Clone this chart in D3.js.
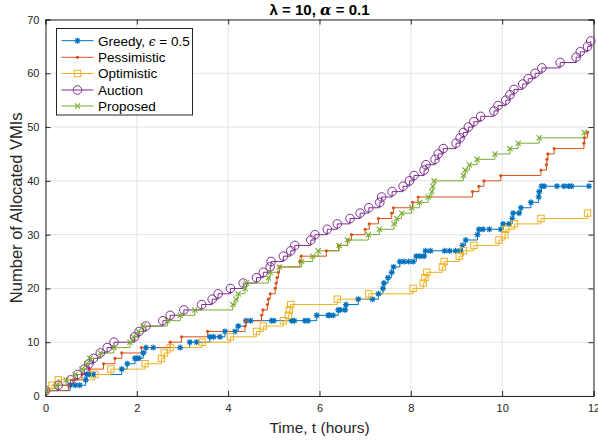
<!DOCTYPE html>
<html><head><meta charset="utf-8">
<script src="https://cdn.jsdelivr.net/npm/d3@7"></script>
<style>body{margin:0;background:#fff;} svg{display:block;font-family:"Liberation Sans",Arial,Helvetica,sans-serif;}</style>
</head><body><svg id="c" width="598" height="443"></svg>
<script>
const xTicks = [0, 2, 4, 6, 8, 10, 12];
const yTicks = [0, 10, 20, 30, 40, 50, 60, 70];
const seriesNames = ["Greedy, ϵ = 0.5", "Pessimistic", "Optimistic", "Auction", "Proposed"];

const greedy = [[0,1],[0.54,2],[0.65,2],[0.75,2],[0.88,3],[0.9,4],[0.97,4],[1.05,4],[1.67,5],[1.79,6],[1.96,7],[2.0,7],[2.05,7],[2.14,8],[2.2,9],[2.36,9],[2.95,9],[3.16,10],[3.31,10],[3.6,11],[3.68,11],[3.82,11],[3.93,12],[4.15,12],[4.22,13],[4.39,14],[4.49,14],[4.95,14],[5.0,14],[5.39,14],[5.45,14],[5.68,14],[5.75,14],[5.94,15],[6.19,15],[6.22,15],[6.3,15],[6.41,16],[6.45,16],[6.56,16],[6.58,17],[6.85,18],[7.16,18],[7.29,19],[7.39,20],[7.41,21],[7.5,22],[7.58,23],[7.62,24],[7.76,25],[7.85,25],[7.95,25],[8.05,25],[8.12,26],[8.2,26],[8.29,26],[8.32,27],[8.43,27],[8.74,27],[8.85,27],[8.98,27],[9.08,27],[9.13,28],[9.2,29],[9.46,30],[9.49,31],[9.58,31],[9.72,31],[9.97,31],[10.02,32],[10.15,32],[10.22,33],[10.24,34],[10.37,34],[10.41,35],[10.63,36],[10.8,37],[10.81,38],[10.86,39],[10.92,39],[11.2,39],[11.35,39],[11.45,39],[11.52,39],[11.9,39]];
const pessimistic = [[0,1],[0.5,2],[0.6,3],[0.8,4],[0.97,5],[1.27,6],[1.52,7],[1.67,8],[2.1,9],[2.73,10],[2.98,11],[3.55,12],[4.37,13],[4.39,14],[4.73,15],[4.76,16],[4.86,17],[4.88,18],[4.92,19],[5.03,20],[5.05,21],[5.07,22],[5.1,23],[5.12,24],[5.57,25],[5.6,26],[6.15,27],[6.42,28],[6.62,29],[6.7,30],[7.0,31],[7.09,32],[7.29,33],[7.58,34],[7.62,35],[8.04,36],[8.16,37],[9.35,38],[9.49,39],[9.6,40],[9.97,41],[10.85,42],[10.97,43],[10.98,44],[11.0,45],[11.14,46],[11.79,47],[11.8,48],[11.87,49]];
const optimistic = [[0,1],[0.14,2],[0.28,3],[1.08,4],[1.43,5],[2.18,6],[2.54,7],[2.6,8],[2.73,9],[3.43,10],[4.05,11],[4.62,12],[4.77,13],[5.21,14],[5.32,15],[5.34,16],[5.37,17],[6.39,18],[7.08,19],[8.05,20],[8.27,21],[8.31,22],[8.35,23],[8.69,24],[8.73,25],[9.06,26],[9.15,27],[9.38,28],[9.93,29],[10.06,30],[10.08,31],[10.27,32],[10.85,33],[11.87,34]];
const auction = [[0,1],[0.28,2],[0.55,3],[0.7,4],[0.85,5],[0.95,6],[1.05,7],[1.2,8],[1.35,9],[1.5,10],[1.95,11],[2.05,12],[2.2,13],[2.57,14],[2.73,15],[3.03,16],[3.42,17],[3.65,18],[3.78,19],[4.05,20],[4.33,21],[4.62,22],[4.77,23],[4.92,24],[4.94,25],[5.21,26],[5.37,27],[5.46,28],[5.81,29],[5.9,30],[6.17,31],[6.39,32],[6.67,33],[6.89,34],[7.08,35],[7.32,36],[7.36,37],[7.59,38],[7.83,39],[7.97,40],[8.07,41],[8.29,42],[8.33,43],[8.53,44],[8.6,45],[8.71,46],[8.99,47],[9.08,48],[9.15,49],[9.26,50],[9.38,51],[9.53,52],[9.82,53],[9.91,54],[10.08,55],[10.17,56],[10.26,57],[10.45,58],[10.57,59],[10.72,60],[10.87,61],[11.27,62],[11.62,63],[11.71,64],[11.87,65],[11.94,66]];
const proposed = [[0,1],[0.25,2],[0.45,3],[0.65,4],[0.8,5],[0.9,6],[0.97,7],[1.2,8],[1.5,9],[1.85,10],[1.92,11],[2.03,12],[2.14,13],[2.67,14],[2.95,15],[3.27,16],[4.1,17],[4.17,18],[4.22,19],[4.37,20],[4.4,21],[4.88,22],[4.92,23],[5.12,24],[5.61,25],[5.85,26],[5.97,27],[6.43,28],[6.61,29],[7.07,30],[7.31,31],[7.63,32],[7.69,33],[7.8,34],[8.02,35],[8.19,36],[8.38,37],[8.46,38],[8.48,39],[8.51,40],[9.15,41],[9.19,42],[9.28,43],[9.45,44],[9.84,45],[10.17,46],[10.35,47],[10.81,48],[11.8,49]];

const colors = ["#0072BD", "#D95319", "#EDB120", "#7E2F8E", "#77AC30"];
const markers = ["star", "dot", "square", "circle", "x"];
const allData = [greedy, pessimistic, optimistic, auction, proposed];

const svg = d3.select("#c");
const L = 45.5, R = 593.5, T = 19.5, B = 396;
const x = d3.scaleLinear().domain([0, 12]).range([L, R]);
const y = d3.scaleLinear().domain([0, 70]).range([B, T]);

// grid
const g = svg.append("g");
g.selectAll(".gx").data(xTicks).enter().append("line")
  .attr("x1", d => x(d)).attr("x2", d => x(d)).attr("y1", T).attr("y2", B)
  .attr("stroke", "#e3e3e3").attr("stroke-width", 1);
g.selectAll(".gy").data(yTicks).enter().append("line")
  .attr("y1", d => y(d)).attr("y2", d => y(d)).attr("x1", L).attr("x2", R)
  .attr("stroke", "#e3e3e3").attr("stroke-width", 1);

// axes
const xAxis = d3.axisBottom(x).tickValues(xTicks).tickSize(-5).tickPadding(8).tickFormat(d3.format("d"));
const yAxis = d3.axisLeft(y).tickValues(yTicks).tickSize(-5).tickPadding(6).tickFormat(d3.format("d"));
const xa = svg.append("g").attr("transform", `translate(0,${B})`).call(xAxis);
const ya = svg.append("g").attr("transform", `translate(${L},0)`).call(yAxis);
const xt = svg.append("g").attr("transform", `translate(0,${T})`).call(d3.axisTop(x).tickValues(xTicks).tickSize(-5).tickFormat(""));
const yr = svg.append("g").attr("transform", `translate(${R},0)`).call(d3.axisRight(y).tickValues(yTicks).tickSize(-5).tickFormat(""));
[xa, ya, xt, yr].forEach(a => {
  a.select(".domain").attr("stroke", "#262626").attr("stroke-width", 1);
  a.selectAll(".tick line").attr("stroke", "#262626");
  a.selectAll(".tick text").attr("fill", "#262626").style("font-size", "11px").style("font-family", "Liberation Sans, Arial, sans-serif");
});

// clip
svg.append("clipPath").attr("id", "clip").append("rect").attr("x", L).attr("y", T - 6).attr("width", R - L + 6).attr("height", B - T + 12);

function drawMarker(sel, type, color) {
  if (type === "circle") {
    sel.append("circle").attr("r", 4.3).attr("fill", "none").attr("stroke", color).attr("stroke-width", 1);
  } else if (type === "square") {
    sel.append("rect").attr("x", -3.2).attr("y", -3.2).attr("width", 6.4).attr("height", 6.4).attr("fill", "none").attr("stroke", color).attr("stroke-width", 1);
  } else if (type === "dot") {
    sel.append("circle").attr("r", 1.6).attr("fill", color);
  } else if (type === "x") {
    sel.append("path").attr("d", "M-2.6,-2.6L2.6,2.6M-2.6,2.6L2.6,-2.6").attr("stroke", color).attr("stroke-width", 1.1).attr("fill", "none");
  } else if (type === "star") {
    sel.append("path").attr("d", "M-3,0L3,0M0,-3L0,3M-2.2,-2.2L2.2,2.2M-2.2,2.2L2.2,-2.2").attr("stroke", color).attr("stroke-width", 1.2).attr("fill", "none");
    sel.append("circle").attr("r", 1.6).attr("fill", color);
  }
}

const line = d3.line().x(d => x(d[0])).y(d => y(d[1])).curve(d3.curveStepAfter);
const plot = svg.append("g").attr("clip-path", "url(#clip)");
allData.forEach((data, i) => {
  plot.append("path").datum(data).attr("d", line).attr("fill", "none").attr("stroke", colors[i]).attr("stroke-width", 1);
});
allData.forEach((data, i) => {
  plot.selectAll(null).data(data).enter().append("g")
    .attr("transform", d => `translate(${x(d[0])},${y(d[1])})`)
    .each(function() { drawMarker(d3.select(this), markers[i], colors[i]); });
});

// legend
const lg = svg.append("g");
lg.append("rect").attr("x", 56.5).attr("y", 28.5).attr("width", 136).attr("height", 86.5).attr("fill", "#fff").attr("stroke", "#262626").attr("stroke-width", 1);
const lgY = [40.7, 57.3, 73.5, 90, 106];
seriesNames.forEach((name, i) => {
  const row = lg.append("g").attr("transform", `translate(0,${lgY[i]})`);
  row.append("line").attr("x1", 61.5).attr("x2", 93.5).attr("y1", 0).attr("y2", 0).attr("stroke", colors[i]).attr("stroke-width", 1);
  drawMarker(row.append("g").attr("transform", "translate(77.5,0)"), markers[i], colors[i]);
  const t = row.append("text").attr("x", 98).attr("y", 4.8).attr("fill", "#000").style("font-size", "13.5px");
  if (i === 0) {
    t.append("tspan").text("Greedy, ");
    t.append("tspan").text("ϵ").style("font-family", "DejaVu Serif, serif").style("font-style", "italic").style("font-size", "12px");
    t.append("tspan").text(" = 0.5");
  } else t.text(name);
});

// labels
svg.append("text").attr("x", (L + R) / 2).attr("y", 433).attr("text-anchor", "middle").attr("fill", "#262626").style("font-size", "15.5px").text("Time, t (hours)");
svg.append("text").attr("transform", `translate(22,${(T + B) / 2}) rotate(-90)`).attr("text-anchor", "middle").attr("fill", "#262626").style("font-size", "16.5px").text("Number of Allocated VMIs");
const title = svg.append("text").attr("x", (L + R) / 2).attr("y", 15).attr("text-anchor", "middle").attr("fill", "#000").style("font-size", "15px").style("font-weight", "bold");
title.append("tspan").text("λ = 10, ");
title.append("tspan").text("α").style("font-family", "DejaVu Serif, serif").style("font-style", "italic");
title.append("tspan").text(" = 0.1");
</script></body></html>
